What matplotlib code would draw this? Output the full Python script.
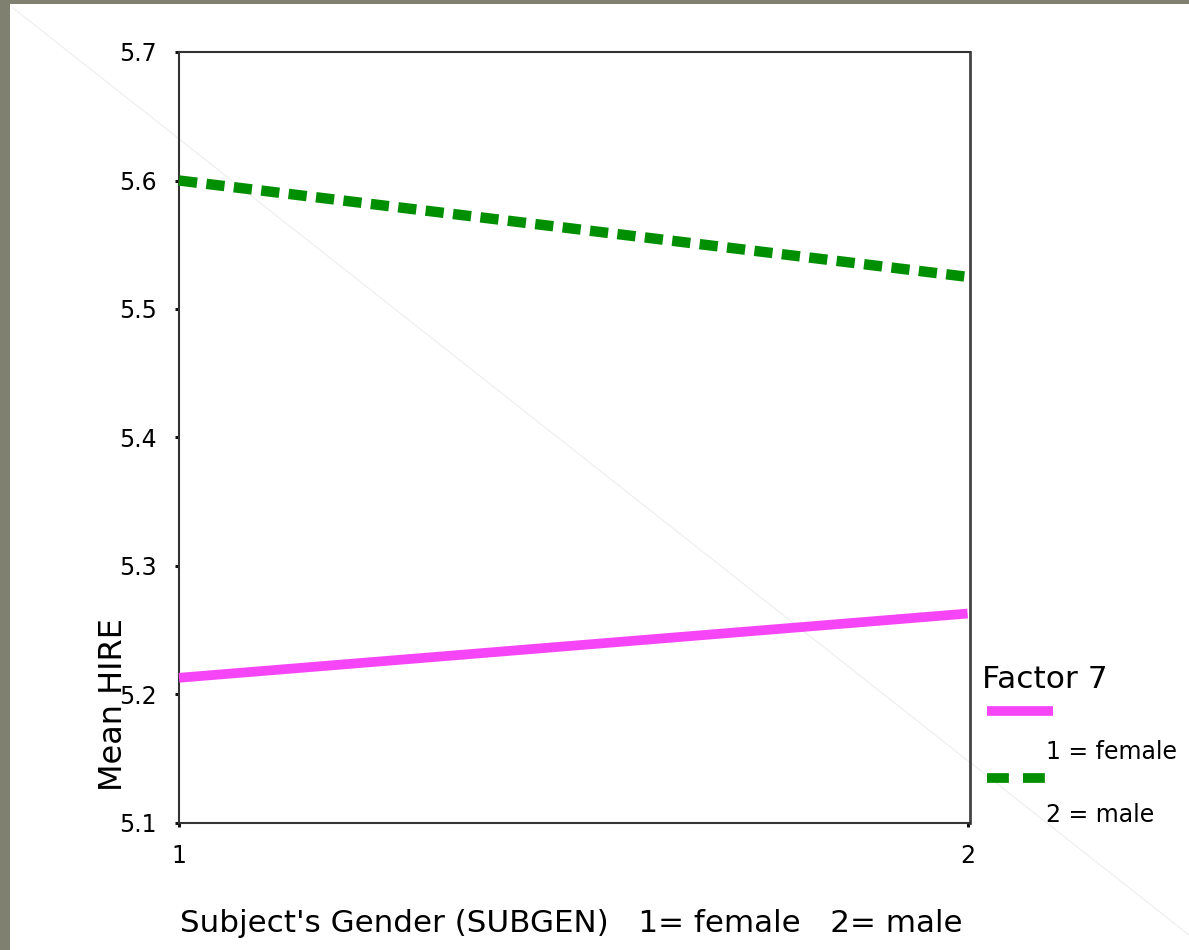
import matplotlib
matplotlib.use("Agg")
import matplotlib.pyplot as plt
from matplotlib.lines import Line2D
from matplotlib.patches import Rectangle

# Data
subgen = [1, 2]
female_vals = [5.213, 5.263]
male_vals = [5.600, 5.525]
yticks = [5.1, 5.2, 5.3, 5.4, 5.5, 5.6, 5.7]
xticks = [1, 2]
series_labels = ["1 = female", "2 = male"]
legend_title = "Factor 7"
xlabel = "Subject's Gender (SUBGEN)   1= female   2= male"
ylabel = "Mean HIRE"

W, H = 1189, 950
fig = plt.figure(figsize=(W / 100, H / 100), dpi=100)
fig.patch.set_facecolor("white")

# frame decorations
fig.add_artist(Rectangle((0, 1 - 4 / H), 1, 4 / H, transform=fig.transFigure,
                         facecolor="#7f8070", edgecolor="none", zorder=0))
fig.add_artist(Rectangle((0, 0), 10 / W, 1, transform=fig.transFigure,
                         facecolor="#7f8070", edgecolor="none", zorder=0))
fig.add_artist(Line2D([13 / W, 1.0], [1 - 8 / H, 1 - 935 / H], transform=fig.transFigure,
                      color="#eeeeee", lw=0.8, zorder=0))

ax = fig.add_axes([179 / W, 1 - 823 / H, (970 - 179) / W, (823 - 52) / H])
ax.set_facecolor("none")

pink = "#f645f6"
green = "#008f00"
ax.plot(subgen, female_vals, color=pink, lw=7, solid_capstyle="butt", clip_on=False, zorder=3)
ax.plot(subgen, male_vals, color=green, lw=7.5, dashes=(1.75, 0.9), dash_capstyle="butt",
        clip_on=False, zorder=3)

ax.set_xlim(1, 2.003)
ax.set_ylim(5.1, 5.7)
ax.set_yticks(yticks)
ax.set_yticklabels([f"{v:.1f}" for v in yticks])
ax.set_xticks(xticks)
ax.set_xticklabels([str(v) for v in xticks])

for s in ax.spines.values():
    s.set_color("#333333")
    s.set_linewidth(1.5)
ax.spines["right"].set_color("#444444")
ax.spines["right"].set_linewidth(2)

ax.tick_params(axis="y", direction="out", length=3, width=2.2, pad=13, labelsize=17, color="#111111")
ax.tick_params(axis="x", direction="out", length=3, width=2.2, pad=12, labelsize=17, color="#111111")

ax.set_xlabel(xlabel, fontsize=22.3)
ax.xaxis.set_label_coords(0.4956, -0.13)
ax.xaxis.label.set_va("center")
ax.set_ylabel(ylabel, fontsize=23)
ax.yaxis.set_label_coords(-0.0834, 0.154)
ax.yaxis.label.set_va("center")

# legend (manual layout like the original)
fig.text(982 / W, 1 - 680 / H, legend_title, fontsize=22.5, ha="left", va="center")
fig.add_artist(Line2D([987 / W, 1053 / W], [1 - 711 / H, 1 - 711 / H], transform=fig.transFigure,
                      color=pink, lw=7, solid_capstyle="butt"))
fig.text(1046 / W, 1 - 752 / H, series_labels[0], fontsize=17, ha="left", va="center")
fig.add_artist(Line2D([987 / W, 1053 / W], [1 - 778 / H, 1 - 778 / H], transform=fig.transFigure,
                      color=green, lw=7, dashes=(2.25, 1.45), dash_capstyle="butt"))
fig.text(1046 / W, 1 - 815 / H, series_labels[1], fontsize=17, ha="left", va="center")

fig.savefig("out.png", dpi=100)
